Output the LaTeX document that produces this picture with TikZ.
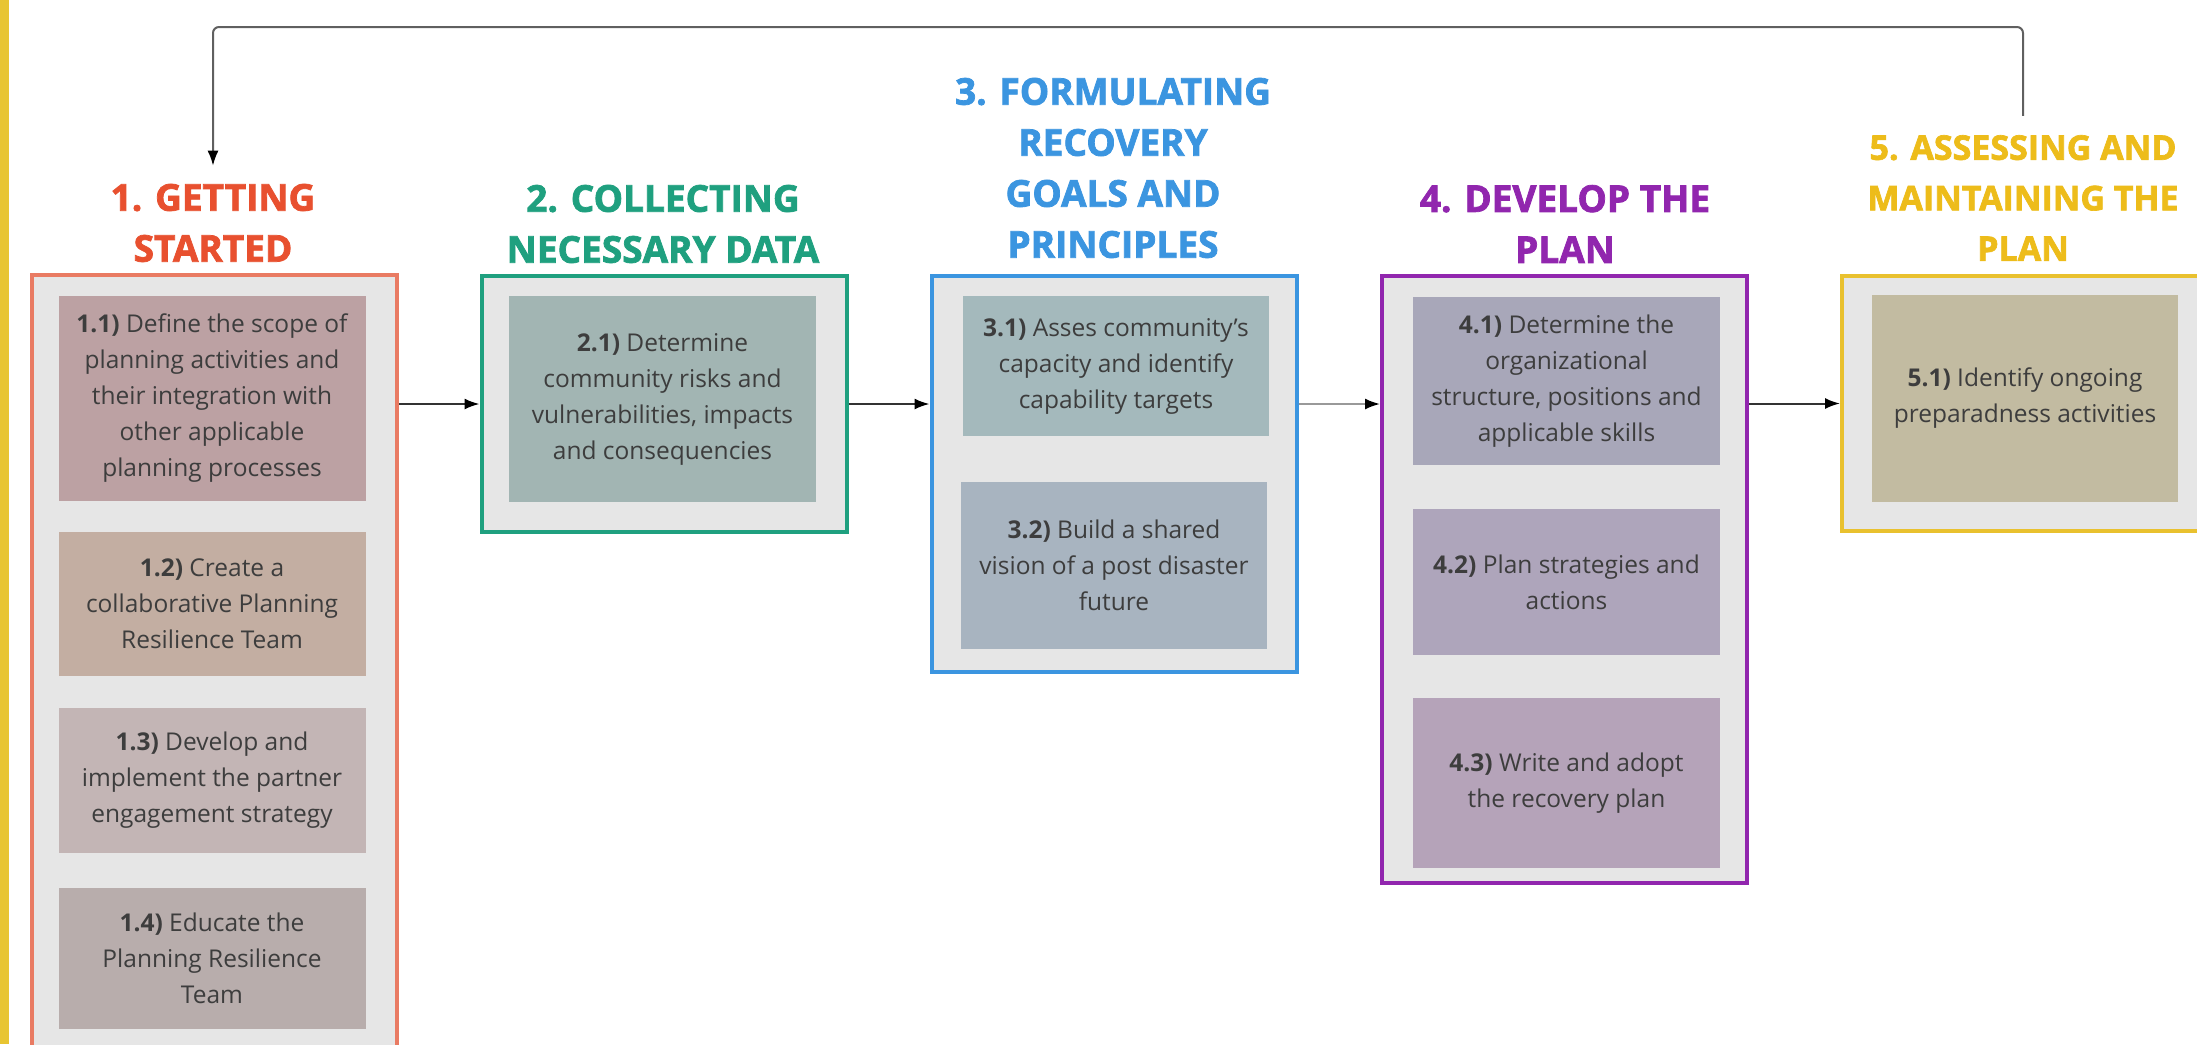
\documentclass[tikz,border=0pt]{standalone}
\usepackage{fontspec}
\setmainfont{Open Sans}
\usetikzlibrary{arrows.meta}
\definecolor{sidebar}{HTML}{E8C532}
\definecolor{boxgray}{HTML}{E6E6E6}
\definecolor{tA}{HTML}{E8502F}\definecolor{bA}{HTML}{E97B63}
\definecolor{tB}{HTML}{1FA07F}
\definecolor{tC}{HTML}{3B95E0}
\definecolor{tD}{HTML}{9126AE}
\definecolor{tE}{HTML}{EDBC1A}\definecolor{bE}{HTML}{E9C12F}
\definecolor{txt}{HTML}{3D3D3D}
\definecolor{ln}{HTML}{333333}
\definecolor{fAa}{HTML}{BCA1A3}\definecolor{fAb}{HTML}{C3AEA2}
\definecolor{fAc}{HTML}{C3B5B5}\definecolor{fAd}{HTML}{B8ADAC}
\definecolor{fBa}{HTML}{A2B5B3}
\definecolor{fCa}{HTML}{A4B9BC}\definecolor{fCb}{HTML}{A8B4C0}
\definecolor{fDa}{HTML}{A8A7B9}\definecolor{fDb}{HTML}{AEA5BB}\definecolor{fDc}{HTML}{B5A3B9}
\definecolor{fEa}{HTML}{C2BBA1}
\begin{document}
\begin{tikzpicture}[x=1pt,y=-1pt,
  outerbox/.style={draw, line width=4pt, fill=boxgray, inner sep=0pt, minimum width=365pt},
  innerbox/.style={inner sep=0pt, minimum width=307pt, align=center, text=txt,
    font=\fontsize{24.5}{36}\selectfont},
  ttl/.style={align=center, inner sep=0pt, font=\fontsize{37}{51}\selectfont\bfseries\addfontfeature{FakeBold=2}},
  conn/.style={line width=2pt, draw=ln, -{Latex[length=15pt,width=11pt,color=black]}},
  fb/.style={line width=2pt, draw=gray!75!black, rounded corners=6pt, -{Latex[length=15pt,width=11pt,color=black]}}
]
\clip (0,0) rectangle (2197,1044);
\fill[white] (0,0) rectangle (2197,1044);
\fill[fill=sidebar] (0,0) rectangle (9,1044);

% titles
\node[ttl, text=tA] (t1) at (213,223) {1. GETTING\\STARTED};
\node[ttl, text=tB] (t2) at (663,224) {2. COLLECTING\\NECESSARY DATA};
\node[ttl, text=tC] (t3) at (1113,168) {3. FORMULATING\\RECOVERY\\GOALS AND\\PRINCIPLES};
\node[ttl, text=tD] (t4) at (1565,224) {4. DEVELOP THE\\PLAN};
\node[ttl, text=tE, font=\fontsize{34}{50.5}\selectfont\bfseries\addfontfeature{FakeBold=2}] (t5) at (2023,198) {5. ASSESSING AND\\MAINTAINING THE\\PLAN};

% outer boxes
\node[outerbox, draw=bA, minimum height=805pt] (b1) at (214.5,677.5) {};
\node[outerbox, draw=tB, minimum height=256pt] (b2) at (664,404) {};
\node[outerbox, draw=tC, minimum height=396pt] (b3) at (1114,474) {};
\node[outerbox, draw=tD, minimum height=607pt] (b4) at (1564.5,579.5) {};
\node[outerbox, draw=bE, minimum height=255pt, minimum width=366pt] (b5) at (2025,403.5) {};

% inner boxes
\node[innerbox, fill=fAa, minimum height=205pt] (s11) at (212,398.5) {\textbf{1.1)} Define the scope of\\planning activities and\\their integration with\\other applicable\\planning processes};
\node[innerbox, fill=fAb, minimum height=144pt] (s12) at (212,604) {\textbf{1.2)} Create a\\collaborative Planning\\Resilience Team};
\node[innerbox, fill=fAc, minimum height=145pt] (s13) at (212,780.5) {\textbf{1.3)} Develop and\\implement the partner\\engagement strategy};
\node[innerbox, fill=fAd, minimum height=141pt] (s14) at (212,958.5) {\textbf{1.4)} Educate the\\Planning Resilience\\Team};
\node[innerbox, fill=fBa, minimum height=206pt] (s21) at (662.5,399) {\textbf{2.1)} Determine\\community risks and\\vulnerabilities, impacts\\and consequencies};
\node[innerbox, fill=fCa, minimum height=140pt, minimum width=306pt] (s31) at (1116,366) {\textbf{3.1)} Asses community’s\\capacity and identify\\capability targets};
\node[innerbox, fill=fCb, minimum height=167pt, minimum width=306pt] (s32) at (1114,565.5) {\textbf{3.2)} Build a shared\\vision of a post disaster\\future};
\node[innerbox, fill=fDa, minimum height=168pt] (s41) at (1566.5,381) {\textbf{4.1)} Determine the\\organizational\\structure, positions and\\applicable skills};
\node[innerbox, fill=fDb, minimum height=146pt] (s42) at (1566.5,582) {\textbf{4.2)} Plan strategies and\\actions};
\node[innerbox, fill=fDc, minimum height=170pt] (s43) at (1566.5,783) {\textbf{4.3)} Write and adopt\\the recovery plan};
\node[innerbox, fill=fEa, minimum height=207pt, minimum width=306pt] (s51) at (2025,398.5) {\textbf{5.1)} Identify ongoing\\preparadness activities};

% connectors
\draw[conn] (b1.east |- b2.west) -- (b2.west);
\draw[conn] (b2.east) -- (b2.east -| b3.west);
\draw[conn, draw=gray!80] (b3.east |- b2.east) -- (b2.east -| b4.west);
\draw[conn] (b4.east |- b5.west) -- (b5.west);
\coordinate (top) at (0,27);
\draw[fb] ([yshift=19pt]t5.north) -- (t5.north |- top) -- (t1.north |- top) -- ([yshift=18pt]t1.north);
\end{tikzpicture}
\end{document}
